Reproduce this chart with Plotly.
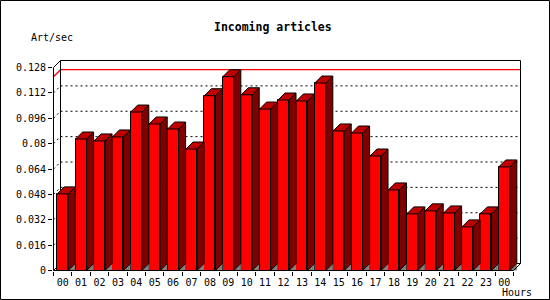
import plotly.graph_objects as go

# ---------------- data ----------------
hours = ["00", "01", "02", "03", "04", "05", "06", "07", "08", "09", "10", "11",
         "12", "13", "14", "15", "16", "17", "18", "19", "20", "21", "22", "23", "00"]
values = [0.0483, 0.0829, 0.0817, 0.0842, 0.0999, 0.0924, 0.0892, 0.0766,
          0.1102, 0.1222, 0.1108, 0.1018, 0.1075, 0.1069, 0.1182, 0.0880,
          0.0867, 0.0722, 0.0508, 0.0357, 0.0376, 0.0363, 0.0275, 0.0357, 0.0653]
y_tick_vals = [0, 0.016, 0.032, 0.048, 0.064, 0.08, 0.096, 0.112, 0.128]
y_tick_text = ["0", "0.016", "0.032", "0.048", "0.064", "0.08", "0.096", "0.112", "0.128"]
title_text = "Incoming articles"
y_title = "Art/sec"
x_title = "Hours"

# ---------------- geometry ----------------
IMG_W, IMG_H = 550, 300
L, T = 53, 60
PLOT_RIGHT, PLOT_BOTTOM = 521, 271
PW, PH = PLOT_RIGHT - L, PLOT_BOTTOM - T
S = 18.4                     # px per category
K = 203 / 0.128              # px per unit value
X0 = -0.5 - 0.5 / S
X1 = X0 + PW / S
Y0 = -0.5 / K
Y1 = Y0 + PH / K
DEPTH = 7
DX, DY = DEPTH / S, DEPTH / K
BW = 0.6
N = len(values)
YMAX = y_tick_vals[-1]

RED = "#ff0000"
TOP = "#c00000"
SIDE = "#800000"
GRAY = "#808080"
FONT = "DejaVu Sans Mono"

xs = list(range(N))

fig = go.Figure()

# front faces
fig.add_trace(go.Bar(x=xs, y=values, width=BW, marker=dict(color=RED, line=dict(color="black", width=1)),
                     hoverinfo="skip", showlegend=False))

# floor shadow triangles
tx, ty = [], []
for i, v in enumerate(values):
    xr = i + BW / 2
    tx += [xr, xr + DX, xr + DX, xr, None]
    ty += [0, DY, 0, 0, None]
fig.add_trace(go.Scatter(x=tx, y=ty, mode="lines", fill="toself", fillcolor=GRAY,
                         line=dict(width=0, color=GRAY), hoverinfo="skip", showlegend=False))

# side faces
sx, sy = [], []
for i, v in enumerate(values):
    xr = i + BW / 2
    sx += [xr, xr, xr + DX, xr + DX, xr, None]
    sy += [0, v, v + DY, DY, 0, None]
fig.add_trace(go.Scatter(x=sx, y=sy, mode="lines", fill="toself", fillcolor=SIDE,
                         line=dict(width=1, color="black"), hoverinfo="skip", showlegend=False))

# top caps
cx, cy = [], []
for i, v in enumerate(values):
    xl, xr = i - BW / 2, i + BW / 2
    cx += [xl, xl + DX, xr + DX, xr, xl, None]
    cy += [v, v + DY, v + DY, v, v, None]
fig.add_trace(go.Scatter(x=cx, y=cy, mode="lines", fill="toself", fillcolor=TOP,
                         line=dict(width=1, color="black"), hoverinfo="skip", showlegend=False))

shapes = []
xa, xb = -0.5, N - 0.5
# grid lines on back wall + diagonal stubs
for v in y_tick_vals[1:-1]:
    shapes.append(dict(type="line", xref="x", yref="y", x0=xa + DX, x1=xb + DX, y0=v + DY, y1=v + DY,
                       line=dict(color="black", width=1, dash="2px,3px"), layer="below"))
    shapes.append(dict(type="line", xref="x", yref="y", x0=xa, x1=xa + DX, y0=v, y1=v + DY,
                       line=dict(color="black", width=1, dash="2px,3px"), layer="below"))
# max line
vmax = max(values)
shapes.append(dict(type="path", xref="x", yref="y",
                   path=f"M{xa},{vmax} L{xa + DX},{vmax + DY} L{xb + DX},{vmax + DY}",
                   line=dict(color=RED, width=1.3), layer="below"))
# back wall frame
shapes.append(dict(type="path", xref="x", yref="y",
                   path=f"M{xa + DX},{DY} L{xa + DX},{YMAX + DY} L{xb + DX},{YMAX + DY} L{xb + DX},{DY} Z",
                   line=dict(color="black", width=1), layer="below"))
# left/bottom diagonals
shapes.append(dict(type="line", xref="x", yref="y", x0=xa, y0=YMAX, x1=xa + DX, y1=YMAX + DY,
                   line=dict(color="black", width=1), layer="above"))
shapes.append(dict(type="line", xref="x", yref="y", x0=xa, y0=0, x1=xa + DX, y1=DY,
                   line=dict(color="black", width=1), layer="below"))
shapes.append(dict(type="line", xref="x", yref="y", x0=xb, y0=0, x1=xb + DX, y1=DY,
                   line=dict(color="black", width=1), layer="above"))
# front axes
shapes.append(dict(type="line", xref="x", yref="y", x0=xa, y0=0, x1=xa, y1=YMAX,
                   line=dict(color="black", width=1), layer="above"))
shapes.append(dict(type="line", xref="x", yref="y", x0=xa, y0=0, x1=xb, y1=0,
                   line=dict(color="black", width=1), layer="above"))


def px(xp):
    return (xp - L) / PW


def py(yp):
    return (PLOT_BOTTOM - yp) / PH


# image frame
shapes.append(dict(type="rect", xref="paper", yref="paper", x0=px(0.5), x1=px(549.5),
                   y0=py(299.5), y1=py(0.5), line=dict(color="black", width=1), layer="above"))

annotations = [
    dict(text=title_text, xref="paper", yref="paper", x=px(273), y=py(27), showarrow=False,
         xanchor="center", yanchor="middle", font=dict(family=FONT, size=11.5, color="black", weight="bold")),
    dict(text=y_title, xref="paper", yref="paper", x=px(29), y=py(37), showarrow=False,
         xanchor="left", yanchor="middle", font=dict(family=FONT, size=10, color="black")),
    dict(text=x_title, xref="paper", yref="paper", x=px(534), y=py(292), showarrow=False,
         xanchor="right", yanchor="middle", font=dict(family=FONT, size=10, color="black")),
]

fig.update_layout(
    width=IMG_W, height=IMG_H,
    margin=dict(l=L, r=IMG_W - PLOT_RIGHT, t=T, b=IMG_H - PLOT_BOTTOM, pad=0),
    paper_bgcolor="white", plot_bgcolor="white",
    showlegend=False, bargap=0,
    shapes=shapes, annotations=annotations,
    xaxis=dict(range=[X0, X1], tickmode="array", tickvals=xs, ticktext=hours, ticks="",
               ticklabelstandoff=4,
               showgrid=False, zeroline=False, showline=False, fixedrange=True,
               tickfont=dict(family=FONT, size=10, color="black"),
               minor=dict(tickmode="array", tickvals=[k - 0.5 for k in range(N + 1)],
                          ticks="outside", ticklen=4, tickcolor="black", tickwidth=1, showgrid=False)),
    yaxis=dict(range=[Y0, Y1], tickmode="array", tickvals=y_tick_vals, ticktext=y_tick_text,
               ticks="outside", ticklen=4, tickcolor="black", tickwidth=1,
               showgrid=False, zeroline=False, showline=False, fixedrange=True,
               tickfont=dict(family=FONT, size=10, color="black")),
)

fig.write_html("out.html", config={"displayModeBar": False})
